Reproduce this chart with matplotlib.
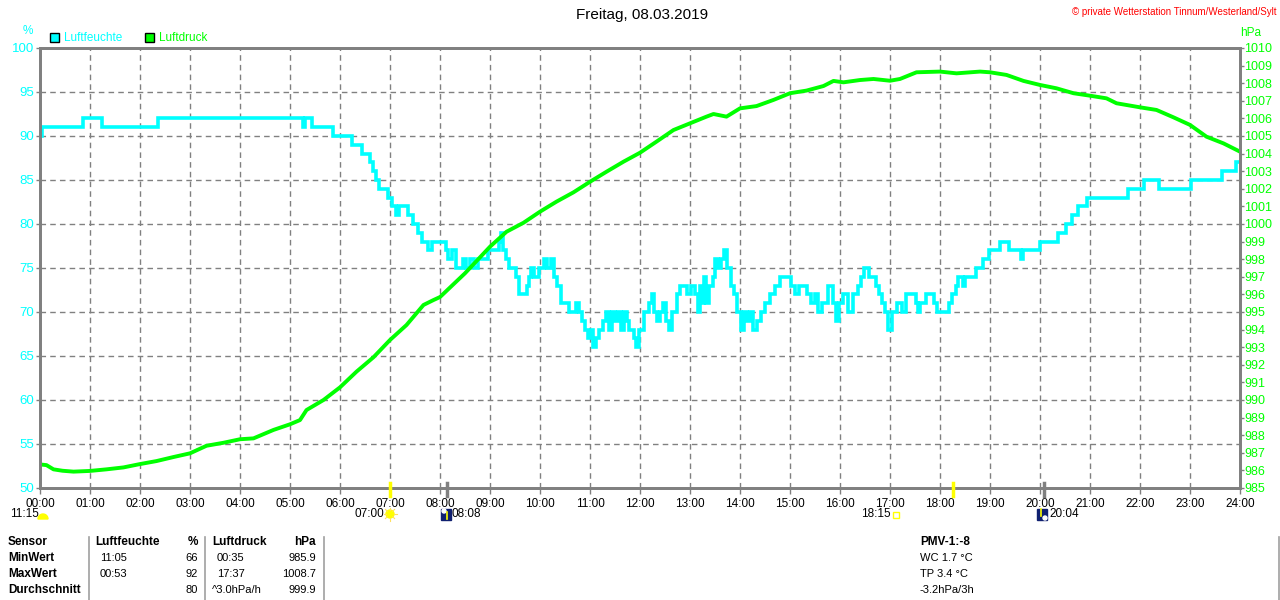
import numpy as np
import matplotlib
matplotlib.use("Agg")
import matplotlib.pyplot as plt
from matplotlib.lines import Line2D
from matplotlib.patches import Rectangle, Ellipse, Polygon
from matplotlib.transforms import blended_transform_factory

plt.rcParams['font.family'] = ['Liberation Sans', 'DejaVu Sans']

# humidity (%), step values, time in hours
hum_t = [0.00, 0.04, 0.86, 1.24, 2.36, 5.26, 5.30, 5.44, 5.86, 6.24, 6.44, 6.60, 6.66, 6.72,
         6.78, 6.96, 7.04, 7.12, 7.18, 7.36, 7.46, 7.56, 7.64, 7.76, 7.84, 8.12, 8.16, 8.24,
         8.32, 8.46, 8.52, 8.60, 8.68, 8.76, 8.96, 9.18, 9.22, 9.26, 9.32, 9.38, 9.52, 9.58,
         9.74, 9.78, 9.82, 9.88, 9.98, 10.08, 10.14, 10.22, 10.28, 10.34, 10.42, 10.58, 10.72,
         10.78, 10.84, 10.90, 10.96, 11.02, 11.06, 11.12, 11.18, 11.26, 11.32, 11.38, 11.44,
         11.50, 11.56, 11.62, 11.68, 11.74, 11.78, 11.88, 11.92, 11.98, 12.08, 12.18, 12.24,
         12.28, 12.34, 12.40, 12.46, 12.52, 12.58, 12.64, 12.74, 12.80, 12.94, 13.02, 13.10,
         13.16, 13.20, 13.24, 13.28, 13.32, 13.38, 13.46, 13.50, 13.56, 13.62, 13.68, 13.74,
         13.82, 13.88, 13.94, 14.02, 14.08, 14.14, 14.20, 14.26, 14.34, 14.42, 14.50, 14.60,
         14.70, 14.80, 15.02, 15.10, 15.18, 15.34, 15.42, 15.50, 15.56, 15.64, 15.76, 15.86,
         15.92, 15.98, 16.06, 16.16, 16.26, 16.36, 16.42, 16.48, 16.58, 16.72, 16.78, 16.84,
         16.90, 16.96, 17.04, 17.14, 17.24, 17.32, 17.52, 17.56, 17.60, 17.72, 17.88, 17.94,
         18.18, 18.24, 18.32, 18.36, 18.46, 18.50, 18.72, 18.86, 18.98, 19.20, 19.38, 19.62,
         19.66, 20.00, 20.36, 20.52, 20.64, 20.76, 20.94, 21.76, 22.08, 22.38, 23.02, 23.64,
         23.92, 24.00]
hum_v = [90, 91, 92, 91, 92, 91, 92, 91, 90, 89, 88, 87, 86, 85,
         84, 83, 82, 81, 82, 81, 80, 79, 78, 77, 78, 77, 76, 77,
         75, 76, 75, 76, 75, 76, 77, 78, 79, 77, 76, 75, 74, 72,
         73, 74, 75, 74, 75, 76, 75, 76, 74, 73, 71, 70, 71,
         70, 69, 68, 67, 68, 66, 67, 68, 69, 70, 68, 70,
         69, 70, 68, 70, 69, 68, 67, 66, 68, 70, 71, 72,
         70, 69, 70, 71, 69, 68, 70, 72, 73, 72, 73, 72,
         70, 73, 71, 74, 71, 73, 74, 76, 75, 76, 77, 75,
         73, 72, 70, 68, 70, 69, 70, 68, 69, 70, 71, 72,
         73, 74, 73, 72, 73, 72, 71, 72, 70, 71, 73, 71,
         69, 71, 72, 70, 72, 73, 74, 75, 74, 73, 72, 71,
         70, 68, 70, 71, 70, 72, 71, 70, 71, 72, 71, 70,
         71, 72, 73, 74, 73, 74, 75, 76, 77, 78, 77, 76,
         77, 78, 79, 80, 81, 82, 83, 84, 85, 84, 85, 86,
         87, 87]

# air pressure (hPa)
pres_t = [0.00, 0.13, 0.27, 0.45, 0.67, 1.00, 1.33, 1.67, 2.00, 2.33, 2.67, 3.00, 3.33,
          3.67, 4.00, 4.27, 4.67, 5.00, 5.20, 5.33, 5.67, 6.00, 6.33, 6.67, 7.00, 7.33,
          7.67, 7.87, 8.00, 8.50, 9.00, 9.33, 9.67, 10.00, 10.33, 10.67, 11.00, 11.33,
          11.67, 12.00, 12.33, 12.67, 13.00, 13.33, 13.47, 13.73, 14.00, 14.33, 14.67,
          15.00, 15.33, 15.67, 15.87, 16.07, 16.40, 16.67, 17.00, 17.20, 17.53, 18.00,
          18.33, 18.80, 19.00, 19.33, 19.67, 20.00, 20.33, 20.67, 21.00, 21.33, 21.53,
          22.00, 22.33, 22.67, 23.00, 23.33, 23.67, 24.00]
pres_v = [986.34, 986.30, 986.06, 985.98, 985.93, 985.97, 986.06, 986.17, 986.36, 986.53,
          986.76, 986.97, 987.40, 987.57, 987.77, 987.82, 988.30, 988.62, 988.86, 989.43,
          990.00, 990.72, 991.61, 992.43, 993.41, 994.26, 995.40, 995.68, 995.85, 997.20,
          998.71, 999.56, 1000.07, 1000.70, 1001.27, 1001.80, 1002.40, 1002.97, 1003.54,
          1004.05, 1004.68, 1005.34, 1005.72, 1006.10, 1006.25, 1006.10, 1006.57, 1006.70,
          1007.05, 1007.43, 1007.58, 1007.84, 1008.13, 1008.05, 1008.18, 1008.24, 1008.14,
          1008.24, 1008.62, 1008.66, 1008.56, 1008.66, 1008.62, 1008.47, 1008.13, 1007.90,
          1007.71, 1007.43, 1007.29, 1007.14, 1006.86, 1006.63, 1006.48, 1006.06, 1005.63,
          1004.96, 1004.58, 1004.11]

hour_labels = ["%02d:00" % h for h in range(25)]

# sun / moon events: label, position (h), kind
events = [("11:15", 0.00, "moon_set"), ("07:00", 7.00, "sunrise"), ("08:08", 8.13, "moonrise"),
          ("18:15", 18.25, "sunset"), ("20:04", 20.07, "moonset")]

table_header = ["Sensor", "Luftfeuchte", "%", "Luftdruck", "hPa"]
table_rows = [["MinWert", "11:05", "66", "00:35", "985.9"],
              ["MaxWert", "00:53", "92", "17:37", "1008.7"],
              ["Durchschnitt", "", "80", "^3.0hPa/h", "999.9"]]
pmv_lines = ["PMV-1:-8", "WC 1.7 °C", "TP 3.4 °C", "-3.2hPa/3h"]

CYAN = "#00ffff"
GREEN = "#00ff00"
YELLOW = "#ffff00"
GRAY = "#808080"
W, H = 1280, 600


def px(x, y):
    return x / W, 1 - y / H


fig = plt.figure(figsize=(12.8, 6), dpi=100)
fig.patch.set_facecolor("white")
ax = fig.add_axes([40 / W, 112 / H, 1200 / W, 440 / H])
ax2 = ax.twinx()

ax.plot(hum_t, hum_v, drawstyle="steps-post", color=CYAN, lw=2.6, solid_joinstyle="miter")
ax2.plot(pres_t, pres_v, color=GREEN, lw=2.8)

ax.set_xlim(0, 24)
ax.set_ylim(50, 100)
ax2.set_ylim(985, 1010)
ax.set_xticks(range(25))
ax.set_xticklabels(hour_labels, fontsize=8.5)
ax.set_yticks(range(50, 101, 5))
ax.set_yticklabels([str(v) for v in range(50, 101, 5)], fontsize=9.5, color=CYAN)
ax2.set_yticks(range(985, 1011))
ax2.set_yticklabels([str(v) for v in range(985, 1011)], fontsize=9, color=GREEN)

ax.grid(True, color=GRAY, ls=(0, (4, 3)), lw=1.0)
for a in (ax, ax2):
    for s in a.spines.values():
        s.set_color(GRAY)
        s.set_linewidth(2)
ax.tick_params(axis="both", colors=GRAY, length=4, width=1, pad=2)
ax.tick_params(axis="x", labelcolor="black", pad=3)
ax.tick_params(axis="y", labelcolor=CYAN, length=3, pad=1)
ax2.tick_params(axis="y", colors=GRAY, labelcolor=GREEN, length=3, width=1, pad=0)

# event markers on the time axis
bt = blended_transform_factory(ax.transData, fig.transFigure)
for lab, h, kind in events:
    col = YELLOW if kind in ("sunrise", "sunset") else GRAY
    if kind != "moon_set":
        fig.add_artist(Line2D([h, h], [1 - 483 / H, 1 - 496 / H], transform=bt, color=col, lw=2.5))

tf = fig.transFigure
fig.text(*px(10, 514), "11:15", fontsize=8.5, va="center")
ang = np.linspace(0, np.pi, 20)
moon = np.column_stack([(43 + 5 * np.cos(ang)) / W, 1 - (519 - 5 * np.sin(ang)) / H])
fig.add_artist(Polygon(moon, closed=True, transform=tf, color=YELLOW))
fig.text(*px(384, 514), "07:00", fontsize=8.5, va="center", ha="right")
fig.add_artist(Ellipse(px(390, 514), 8 / W, 8 / H, transform=tf, color=YELLOW))
for k in range(8):
    a = k * np.pi / 4
    fig.add_artist(Line2D([(390 + 4 * np.cos(a)) / W, (390 + 6.5 * np.cos(a)) / W],
                          [1 - (514 + 4 * np.sin(a)) / H, 1 - (514 + 6.5 * np.sin(a)) / H],
                          transform=tf, color="#ffe060", lw=0.8))
fig.add_artist(Rectangle(px(441, 520), 10 / W, 11 / H, transform=tf, color="#102070"))
fig.add_artist(Ellipse(px(444, 511), 4 / W, 4 / H, transform=tf, color="white"))
fig.add_artist(Line2D([447 / W] * 2, [1 - 519 / H, 1 - 512 / H], transform=tf, color=YELLOW, lw=1.2))
fig.text(*px(452, 514), "08:08", fontsize=8.5, va="center")
fig.text(*px(891, 514), "18:15", fontsize=8.5, va="center", ha="right")
fig.add_artist(Rectangle(px(893, 518), 6 / W, 6 / H, transform=tf, fill=False, ec=YELLOW, lw=1))
fig.add_artist(Rectangle(px(1037, 520), 10 / W, 11 / H, transform=tf, color="#102070"))
fig.add_artist(Ellipse(px(1045, 518), 4 / W, 4 / H, transform=tf, color="white"))
fig.add_artist(Line2D([1041 / W] * 2, [1 - 516 / H, 1 - 509 / H], transform=tf, color=YELLOW, lw=1.2))
fig.text(*px(1049, 514), "20:04", fontsize=8.5, va="center")

# title and header texts
fig.text(*px(642, 15), "Freitag, 08.03.2019", fontsize=11, ha="center", va="center")
fig.text(*px(1276, 12), "© private Wetterstation Tinnum/Westerland/Sylt", fontsize=7, color="red",
         ha="right", va="center")
fig.text(*px(28, 31), "%", fontsize=8.5, color=CYAN, ha="center", va="center")
fig.text(*px(1251, 33), "hPa", fontsize=8.5, color=GREEN, ha="center", va="center")
fig.add_artist(Rectangle(px(50, 42), 9 / W, 9 / H, transform=tf, fc=CYAN, ec="black", lw=1))
fig.text(*px(64, 38), "Luftfeuchte", fontsize=8.5, color=CYAN, va="center")
fig.add_artist(Rectangle(px(145, 42), 9 / W, 9 / H, transform=tf, fc=GREEN, ec="black", lw=1))
fig.text(*px(159, 38), "Luftdruck", fontsize=8.5, color=GREEN, va="center")

# table at the bottom
col_x = [8, 95, 198, 212, 316]
col_ha = ["left", "left", "right", "left", "right"]
row_y = [542, 558, 574, 590]
for c, txt in enumerate(table_header):
    fig.text(*px(col_x[c], row_y[0]), txt, fontsize=8.5, fontweight="bold", ha=col_ha[c], va="center")
for r, row in enumerate(table_rows):
    for c, txt in enumerate(row):
        x = col_x[c]
        if c in (1, 3) and not txt.startswith("^"):
            x += 5
        fig.text(*px(x, row_y[r + 1]), txt, fontsize=8.5 if c == 0 else 8,
                 fontweight="bold" if c == 0 else "normal", ha=col_ha[c], va="center")
for xl in (89, 205, 324, 1279):
    fig.add_artist(Line2D([xl / W] * 2, [1 - 537 / H, 0], transform=tf, color="#a0a0a0", lw=1.2))
for i, txt in enumerate(pmv_lines):
    fig.text(*px(920, row_y[i]), txt, fontsize=8.5 if i == 0 else 8,
             fontweight="bold" if i == 0 else "normal", va="center")

fig.savefig("out.png", dpi=100, facecolor="white")
